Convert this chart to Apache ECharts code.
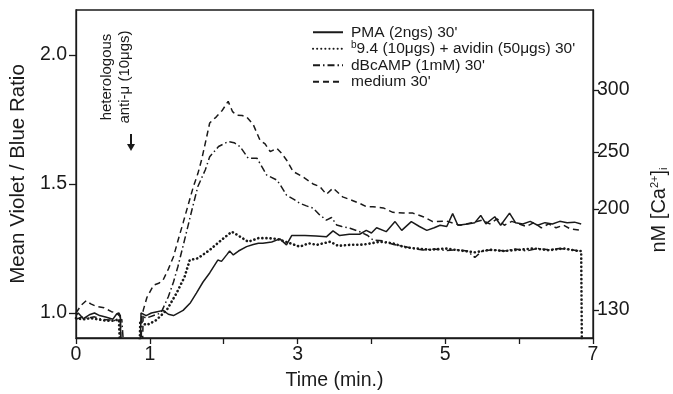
<!DOCTYPE html>
<html>
<head>
<meta charset="utf-8">
<script src="https://cdn.jsdelivr.net/npm/echarts@6/dist/echarts.min.js"></script>
<style>
  html, body { margin: 0; padding: 0; background: #fff; }
  #chart { width: 673px; height: 394px; }
</style>
</head>
<body>
<div id="chart"></div>
<script>
// [time (min), mean violet/blue ratio]
var pma = [[0, 0.99], [0.03, 1.0], [0.1, 0.978], [0.18, 0.993], [0.25, 1.0], [0.32, 0.99], [0.4, 0.984], [0.5, 0.976],
    [0.55, 0.996], [0.58, 1.0], [0.6, 0.99], [0.61, 0.85], [0.7, '-'], [0.87, 0.85], [0.88, 1.0], [0.95, 0.99],
    [1.02, 1.0], [1.1, 1.005], [1.18, 1.01], [1.25, 0.995], [1.32, 0.99], [1.45, 1.01], [1.55, 1.04], [1.63, 1.077],
    [1.72, 1.12], [1.81, 1.155], [1.92, 1.205], [1.97, 1.2], [2.04, 1.225], [2.08, 1.24], [2.13, 1.225], [2.2, 1.24],
    [2.31, 1.257], [2.4, 1.265], [2.47, 1.27], [2.53, 1.27], [2.65, 1.275], [2.76, 1.287], [2.85, 1.264], [2.92, 1.3],
    [3.1, 1.3], [3.25, 1.298], [3.39, 1.295], [3.48, 1.318], [3.57, 1.3], [3.7, 1.305], [3.84, 1.305], [3.93, 1.32],
    [4.0, 1.31], [4.07, 1.33], [4.2, 1.315], [4.32, 1.354], [4.41, 1.32], [4.54, 1.354], [4.65, 1.335], [4.75, 1.32],
    [4.85, 1.33], [4.93, 1.34], [5.02, 1.335], [5.1, 1.385], [5.17, 1.34], [5.3, 1.345], [5.4, 1.35], [5.48, 1.378],
    [5.55, 1.345], [5.67, 1.373], [5.75, 1.34], [5.87, 1.387], [5.95, 1.35], [6.05, 1.345], [6.15, 1.355], [6.25, 1.34],
    [6.35, 1.35], [6.45, 1.345], [6.55, 1.355], [6.65, 1.35], [6.75, 1.352], [6.84, 1.345]];

var avidin = [[0, 0.98], [0.1, 0.975], [0.2, 0.98], [0.3, 0.975], [0.4, 0.97], [0.5, 0.97], [0.58, 0.975], [0.6, 0.85],
    [0.7, '-'], [0.86, 0.85], [0.87, 0.97], [0.9, 0.96], [0.96, 0.953], [1.09, 0.973], [1.23, 1.012], [1.36, 1.076],
    [1.47, 1.14], [1.54, 1.205], [1.65, 1.212], [1.81, 1.244], [1.97, 1.283], [2.11, 1.315], [2.22, 1.296], [2.33, 1.276],
    [2.47, 1.29], [2.6, 1.29], [2.72, 1.287], [2.85, 1.275], [3.03, 1.257], [3.15, 1.27], [3.26, 1.264], [3.44, 1.276],
    [3.55, 1.26], [3.71, 1.264], [3.89, 1.265], [4.0, 1.27], [4.11, 1.276], [4.29, 1.27], [4.45, 1.255], [4.6, 1.25],
    [4.8, 1.245], [5.0, 1.25], [5.2, 1.242], [5.4, 1.235], [5.6, 1.245], [5.8, 1.24], [6.0, 1.245], [6.2, 1.25],
    [6.4, 1.243], [6.6, 1.25], [6.8, 1.24], [6.84, 1.24], [6.85, 0.85]];

var dbcamp = [[0, 0.975], [0.08, 0.985], [0.15, 0.98], [0.25, 0.985], [0.35, 0.975], [0.45, 0.973], [0.55, 0.97],
    [0.62, 0.975], [0.65, 0.85], [0.75, '-'], [0.88, 0.85], [0.89, 0.99], [0.95, 0.98], [1.05, 0.99], [1.15, 1.0],
    [1.25, 1.063], [1.32, 1.12], [1.38, 1.18], [1.47, 1.283], [1.57, 1.4], [1.65, 1.49], [1.75, 1.554], [1.81, 1.605],
    [1.93, 1.645], [2.06, 1.664], [2.14, 1.66], [2.22, 1.645], [2.33, 1.6], [2.45, 1.6], [2.52, 1.565], [2.58, 1.535],
    [2.72, 1.515], [2.78, 1.49], [2.85, 1.457], [2.95, 1.44], [3.03, 1.425], [3.12, 1.415], [3.21, 1.406], [3.3, 1.38],
    [3.39, 1.36], [3.46, 1.37], [3.53, 1.341], [3.6, 1.335], [3.71, 1.328], [3.84, 1.315], [3.95, 1.3], [4.02, 1.283],
    [4.15, 1.28], [4.3, 1.265], [4.45, 1.258], [4.55, 1.25], [4.7, 1.244], [4.85, 1.248], [5.0, 1.242], [5.15, 1.245],
    [5.3, 1.24], [5.4, 1.215], [5.5, 1.24], [5.65, 1.245], [5.8, 1.24], [5.95, 1.248], [6.1, 1.24], [6.25, 1.25],
    [6.4, 1.245], [6.55, 1.25], [6.7, 1.245], [6.84, 1.24]];

var medium = [[0, 1.0], [0.07, 1.03], [0.14, 1.048], [0.2, 1.035], [0.28, 1.025], [0.38, 1.02], [0.48, 1.005],
    [0.55, 1.0], [0.6, 0.985], [0.61, 0.85], [0.75, '-'], [0.9, 0.85], [0.91, 1.01], [0.96, 1.06], [1.05, 1.108],
    [1.12, 1.115], [1.18, 1.128], [1.25, 1.17], [1.32, 1.218], [1.38, 1.28], [1.45, 1.349], [1.52, 1.42], [1.59, 1.49],
    [1.65, 1.54], [1.7, 1.593], [1.76, 1.67], [1.81, 1.736], [1.9, 1.76], [1.98, 1.785], [2.06, 1.82], [2.12, 1.78],
    [2.17, 1.767], [2.25, 1.765], [2.31, 1.76], [2.4, 1.73], [2.49, 1.67], [2.56, 1.655], [2.63, 1.625], [2.72, 1.638],
    [2.78, 1.62], [2.85, 1.593], [2.94, 1.548], [3.07, 1.528], [3.21, 1.5], [3.3, 1.49], [3.39, 1.46], [3.48, 1.484],
    [3.61, 1.45], [3.75, 1.435], [3.84, 1.425], [3.93, 1.412], [4.02, 1.412], [4.16, 1.407], [4.29, 1.39], [4.43, 1.387],
    [4.56, 1.387], [4.7, 1.373], [4.83, 1.354], [5.02, 1.356], [5.2, 1.34], [5.37, 1.35], [5.5, 1.36], [5.6, 1.345],
    [5.7, 1.365], [5.8, 1.34], [5.9, 1.355], [6.0, 1.345], [6.1, 1.335], [6.2, 1.35], [6.3, 1.33], [6.4, 1.345],
    [6.5, 1.33], [6.6, 1.34], [6.7, 1.325], [6.84, 1.32]];

var seriesNames = ["PMA (2ngs) 30'", "{sup|b}9.4 (10μgs) + avidin (50μgs) 30'", "dBcAMP (1mM) 30'", "medium 30'"];

var ratioTicks = [1.0, 1.5, 2.0];
var timeLabels = [0, 1, 3, 5, 7];
// calcium scale on the right, placed at the ratio it corresponds to
var caTickRatio = [1.012, 1.403, 1.624, 1.864];
var caTickLabels = ['130', '200', '250', '300'];

var ink = '#1a1a1a';
var font = 'Liberation Sans';

var chart = echarts.init(document.getElementById('chart'));

var option = {
    backgroundColor: '#fff',
    animation: false,
    textStyle: {fontFamily: font, color: ink},
    grid: {left: 76, right: 80, top: 10, bottom: 56, outerBoundsMode: 'none', containLabel: false,
        show: true, borderColor: ink, borderWidth: 1.3},
    legend: {
        orient: 'vertical',
        left: 312,
        top: 24,
        padding: 0,
        itemWidth: 30,
        itemHeight: 12,
        itemGap: 0,
        itemStyle: {color: 'rgba(0,0,0,0)', borderWidth: 0},
        textStyle: {
            fontFamily: font, fontSize: 15.5, color: ink, padding: [0, 0, 0, 3], lineHeight: 16.5,
            rich: {sup: {fontSize: 10, verticalAlign: 'top', padding: [0, 0, 6, 0], fontFamily: font, color: ink}}
        },
        data: seriesNames
    },
    xAxis: {
        type: 'value',
        min: 0,
        max: 7,
        interval: 1,
        name: 'Time (min.)',
        nameLocation: 'middle',
        nameGap: 33,
        nameTextStyle: {fontSize: 19.5, color: ink},
        axisLine: {lineStyle: {color: ink, width: 1.3}},
        axisTick: {length: 6, lineStyle: {color: ink, width: 1.3}},
        axisLabel: {
            fontSize: 19.5, color: ink, margin: 7,
            formatter: function (v) { return timeLabels.indexOf(v) >= 0 ? String(v) : ''; }
        },
        splitLine: {show: false}
    },
    yAxis: [{
        type: 'value',
        min: 0.903,
        max: 2.174,
        name: 'Mean Violet / Blue Ratio',
        nameLocation: 'middle',
        nameGap: 43,
        nameRotate: 90,
        nameTextStyle: {fontSize: 20.5, color: ink},
        axisLine: {show: true, lineStyle: {color: ink, width: 1.3}},
        axisTick: {length: 7, customValues: ratioTicks, lineStyle: {color: ink, width: 1.3}},
        axisLabel: {fontSize: 19.5, color: ink, margin: 9, customValues: ratioTicks,
            formatter: function (v) { return v.toFixed(1); }},
        splitLine: {show: false}
    }, {
        type: 'value',
        position: 'right',
        min: 0.903,
        max: 2.174,
        axisLine: {show: true, lineStyle: {color: ink, width: 1.3}},
        axisTick: {length: 6, customValues: caTickRatio, lineStyle: {color: ink, width: 1.3}},
        axisLabel: {fontSize: 19.5, color: ink, margin: 4, customValues: caTickRatio,
            formatter: function (v) {
                var i = caTickRatio.indexOf(v);
                return i >= 0 ? caTickLabels[i] : '';
            }},
        splitLine: {show: false}
    }],
    graphic: [
        {type: 'text', x: 107, y: 77, rotation: Math.PI / 2,
            style: {text: 'heterologous', fontSize: 15, fontFamily: font, fill: ink, align: 'center', verticalAlign: 'middle'}},
        {type: 'text', x: 125, y: 77, rotation: Math.PI / 2,
            style: {text: 'anti-μ (10μgs)', fontSize: 15, fontFamily: font, fill: ink, align: 'center', verticalAlign: 'middle'}},
        {type: 'line', shape: {x1: 131, y1: 134, x2: 131, y2: 146}, style: {stroke: ink, lineWidth: 2}},
        {type: 'polygon', shape: {points: [[127, 144], [135, 144], [131, 151]]}, style: {fill: ink}},
        {type: 'text', x: 659, y: 210, rotation: Math.PI / 2,
            style: {
                text: 'nM [Ca{sup|2+}]{sub|i}', fontSize: 20, fontFamily: font, fill: ink, align: 'center', verticalAlign: 'middle',
                rich: {
                    sup: {fontSize: 11, fontFamily: font, fill: ink, verticalAlign: 'top', padding: [0, 0, 9, 0]},
                    sub: {fontSize: 11, fontFamily: font, fill: ink, verticalAlign: 'bottom', padding: [9, 0, 0, 0]}
                }
            }}
    ],
    series: [
        {name: seriesNames[0], type: 'line', data: pma, symbol: 'none', clip: true,
            lineStyle: {color: ink, width: 1.5}, itemStyle: {color: ink}},
        {name: seriesNames[1], type: 'line', data: avidin, symbol: 'none', clip: true,
            lineStyle: {color: ink, width: 2.6, type: [0.1, 4], cap: 'round'}, itemStyle: {color: ink}},
        {name: seriesNames[2], type: 'line', data: dbcamp, symbol: 'none', clip: true,
            lineStyle: {color: ink, width: 1.5, type: [7, 3, 1.5, 3]}, itemStyle: {color: ink}},
        {name: seriesNames[3], type: 'line', data: medium, symbol: 'none', clip: true,
            lineStyle: {color: ink, width: 1.5, type: [6, 4]}, itemStyle: {color: ink}}
    ]
};

chart.setOption(option);
</script>
</body>
</html>
